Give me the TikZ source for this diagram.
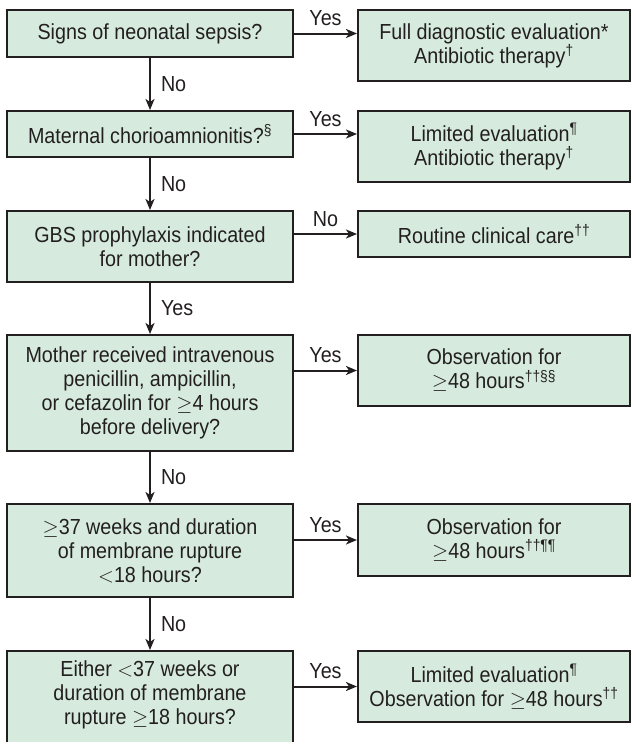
\documentclass[tikz,border=0pt]{standalone}
\usepackage{fontspec}
\setmainfont{Liberation Sans}[FakeStretch=0.905]
\usetikzlibrary{arrows.meta}

\definecolor{boxfill}{RGB}{214,235,221}
\definecolor{inkline}{RGB}{35,31,32}
\newcommand{\sups}[1]{\textsuperscript{#1}}
\newcommand{\flowfont}{\fontsize{21.8}{24}\selectfont}

\tikzset{
  flowbox/.style={draw=inkline, fill=boxfill, line width=2pt, rectangle,
    inner sep=0pt, align=center, text=inkline, font=\flowfont},
  leftbox/.style={flowbox, minimum width=286pt},
  rightbox/.style={flowbox, minimum width=272pt},
  flowarrow/.style={draw=inkline, line width=2pt,
    -{Stealth[length=11pt, width=9pt, inset=3pt]}},
  branchlabel/.style={text=inkline, inner sep=0pt, font=\flowfont},
}

\begin{document}
\begin{tikzpicture}[x=1pt, y=-1pt]
  \useasboundingbox (0,0) rectangle (633,742);
  \clip (0,0) rectangle (633,742);

  % question column
  \node[leftbox, minimum height=47pt] (q1) at (150,33.5) {Signs of neonatal sepsis?};
  \node[leftbox, minimum height=46pt] (q2) at (150,134) {Maternal chorioamnionitis?\sups{§}};
  \node[leftbox, minimum height=71pt] (q3) at (150,246.5) {GBS prophylaxis indicated\\for mother?};
  \node[leftbox, minimum height=116pt] (q4) at (150,393) {Mother received intravenous\\penicillin, ampicillin,\\or cefazolin for $\geq$4 hours\\before delivery?};
  \node[leftbox, minimum height=93pt] (q5) at (150,550.5) {$\geq$37 weeks and duration\\of membrane rupture\\$<$18 hours?};
  \node[leftbox, minimum height=109pt] (q6) at (150,705.5) {};
  \node[branchlabel, align=center] (q6text) at (150,695) {Either $<$37 weeks or\\duration of membrane\\rupture $\geq$18 hours?};

  % action column
  \node[rightbox, minimum height=71pt] (a1) at (494,45.5) {Full diagnostic evaluation*\\Antibiotic therapy\sups{†}};
  \node[rightbox, minimum height=71pt] (a2) at (494,146.5) {Limited evaluation\sups{¶}\\Antibiotic therapy\sups{†}};
  \node[rightbox, minimum height=46pt] (a3) at (494,234) {Routine clinical care\sups{††}};
  \node[rightbox, minimum height=71pt] (a4) at (494,370.5) {Observation for\\$\geq$48 hours\sups{††§§}};
  \node[rightbox, minimum height=72pt] (a5) at (494,540) {Observation for\\$\geq$48 hours\sups{††¶¶}};
  \node[rightbox, minimum height=71pt] (a6) at (494,686.5) {Limited evaluation\sups{¶}\\Observation for $\geq$48 hours\sups{††}};

  % downward "No"/"Yes" path
  \foreach \a/\b/\lab in {q1/q2/No, q2/q3/No, q3/q4/Yes, q4/q5/No, q5/q6/No}{
    \draw[flowarrow] (\a.south) -- (\b.north)
      node[branchlabel, midway, anchor=west, xshift=10pt] {\lab};
  }

  % sideways branches
  \draw[flowarrow] (q1.east) -- (q1.east -| a1.west)
    node[branchlabel, midway, anchor=base, yshift=8pt] {Yes};
  \draw[flowarrow] (q2.east) -- (q2.east -| a2.west)
    node[branchlabel, midway, anchor=base, yshift=8pt] {Yes};
  \draw[flowarrow] (a3.west -| q3.east) -- (a3.west)
    node[branchlabel, midway, anchor=base, yshift=8pt] {No};
  \draw[flowarrow] (a4.west -| q4.east) -- (a4.west)
    node[branchlabel, midway, anchor=base, yshift=8pt] {Yes};
  \draw[flowarrow] (a5.west -| q5.east) -- (a5.west)
    node[branchlabel, midway, anchor=base, yshift=8pt] {Yes};
  \draw[flowarrow] (a6.west -| q6.east) -- (a6.west)
    node[branchlabel, midway, anchor=base, yshift=8pt] {Yes};
\end{tikzpicture}
\end{document}
